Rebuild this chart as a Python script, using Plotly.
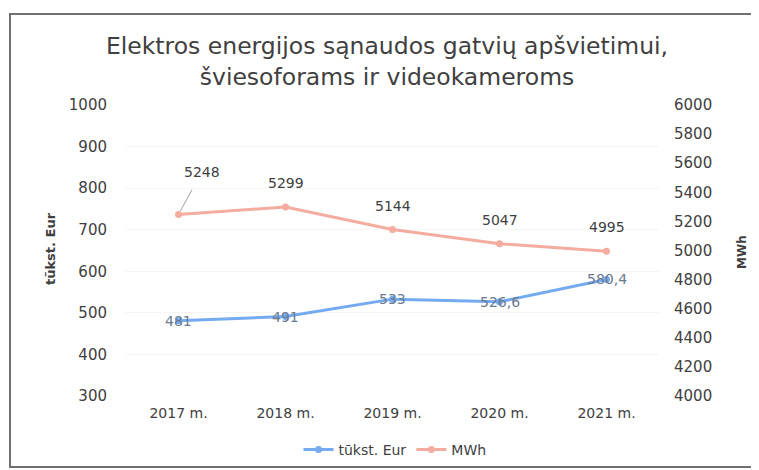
import plotly.graph_objects as go

categories = ["2017 m.", "2018 m.", "2019 m.", "2020 m.", "2021 m."]
eur_values = [481, 491, 533, 526.6, 580.4]
eur_labels = ["481", "491", "533", "526,6", "580,4"]
mwh_values = [5248, 5299, 5144, 5047, 4995]
mwh_labels = ["5248", "5299", "5144", "5047", "4995"]
left_ticks = [300, 400, 500, 600, 700, 800, 900, 1000]
right_ticks = [4000, 4200, 4400, 4600, 4800, 5000, 5200, 5400, 5600, 5800, 6000]

# page body has an 8px margin; work in page coordinates and convert
OFF = 8
W, H = 759 - OFF, 470 - OFF
PL, PR, PT, PB = 125, 660, 105, 396  # plot area in page pixels
ML, MT = PL - OFF, PT - OFF
MR, MB = W - (PR - OFF), H - (PB - OFF)
PW, PH = PR - PL, PB - PT

BLUE = "#74aaf0"
PINK = "#f3ac9f"
TXT = "#404040"
FONT = "DejaVu Sans"


def px(xp):
    return (xp - PL) / PW


def py(yp):
    return (PB - yp) / PH


fig = go.Figure()
fig.add_trace(go.Scatter(
    x=categories, y=eur_values, name="tūkst. Eur", mode="lines+markers",
    line=dict(color=BLUE, width=3), marker=dict(size=7, color=BLUE),
    yaxis="y"))
fig.add_trace(go.Scatter(
    x=categories, y=mwh_values, name="MWh", mode="lines+markers",
    line=dict(color=PINK, width=3), marker=dict(size=7, color=PINK),
    yaxis="y2"))

annotations = []
for c, v, t in zip(categories, eur_values, eur_labels):
    annotations.append(dict(x=c, y=v, xref="x", yref="y", text=t, showarrow=False,
                            font=dict(family=FONT, size=14, color="#6b7a8f")))
for i, (c, v, t) in enumerate(zip(categories, mwh_values, mwh_labels)):
    if i == 0:
        annotations.append(dict(x=c, y=v, xref="x", yref="y2", text=t, showarrow=True,
                                ax=23, ay=-42, arrowhead=0, arrowwidth=1,
                                arrowcolor="#a0a0a0", standoff=4, startstandoff=9,
                                font=dict(family=FONT, size=14, color=TXT)))
    else:
        annotations.append(dict(x=c, y=v, xref="x", yref="y2", text=t, showarrow=False,
                                yshift=24,
                                font=dict(family=FONT, size=14, color=TXT)))

annotations.append(dict(text="<b>tūkst. Eur</b>", xref="paper", yref="paper",
                        x=px(50), y=py(249), textangle=-90,
                        showarrow=False, xanchor="center", yanchor="middle",
                        font=dict(family=FONT, size=13, color=TXT)))
annotations.append(dict(text="<b>MWh</b>", xref="paper", yref="paper",
                        x=px(742), y=py(252), textangle=-90,
                        showarrow=False, xanchor="center", yanchor="middle",
                        font=dict(family=FONT, size=12, color=TXT)))

shapes = [dict(type="rect", xref="paper", yref="paper",
               x0=px(10), x1=px(775), y0=py(467), y1=py(14),
               line=dict(color="#707070", width=2), fillcolor="rgba(0,0,0,0)", layer="below")]

fig.update_layout(
    width=W, height=H,
    margin=dict(l=ML, r=MR, t=MT, b=MB, autoexpand=False),
    paper_bgcolor="white", plot_bgcolor="white",
    title=dict(text="Elektros energijos sąnaudos gatvių apšvietimui,<br>šviesoforams ir videokameroms",
               x=(387 - OFF) / W, xanchor="center", y=1 - (54 - OFF) / H, yanchor="middle",
               font=dict(family=FONT, size=23.5, color=TXT)),
    xaxis=dict(type="category", showgrid=False, showline=False, ticks="", automargin=False,
               ticklabelstandoff=7,
               tickfont=dict(family=FONT, size=14, color=TXT), range=[-0.5, 4.5]),
    yaxis=dict(range=[300, 1000], tickvals=left_ticks, showgrid=True, gridcolor="#f5f5f5",
               zeroline=False, showline=False, ticks="", ticklabelstandoff=17, automargin=False,
               tickfont=dict(family=FONT, size=15, color=TXT)),
    yaxis2=dict(range=[4000, 6000], tickvals=right_ticks, overlaying="y", side="right",
                showgrid=False, zeroline=False, showline=False, ticks="", ticklabelstandoff=13,
                automargin=False,
                tickfont=dict(family=FONT, size=15, color=TXT)),
    legend=dict(orientation="h", x=(395 - OFF) / W, xref="container", xanchor="center",
                y=1 - (450 - OFF) / H, yref="container", yanchor="middle",
                font=dict(family=FONT, size=14, color=TXT)),
    annotations=annotations,
    shapes=shapes,
)

fig.write_html("out.html")
